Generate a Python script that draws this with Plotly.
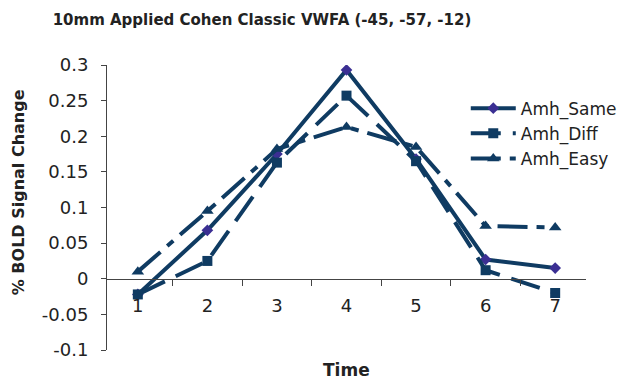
import plotly.graph_objects as go

time_labels = ["1", "2", "3", "4", "5", "6", "7"]
amh_same = [-0.022, 0.068, 0.175, 0.293, 0.168, 0.027, 0.015]
amh_diff = [-0.022, 0.025, 0.163, 0.257, 0.165, 0.012, -0.020]
amh_easy = [0.010, 0.095, 0.182, 0.213, 0.185, 0.074, 0.072]
y_tick_values = [-0.1, -0.05, 0, 0.05, 0.1, 0.15, 0.2, 0.25, 0.3]
y_tick_labels = ["-0.1", "-0.05", "0", "0.05", "0.1", "0.15", "0.2", "0.25", "0.3"]

navy = "#0f3b62"
fig = go.Figure()
fig.add_trace(go.Scatter(x=time_labels, y=amh_same, name="Amh_Same", mode="lines+markers",
                         line=dict(color=navy, width=4),
                         marker=dict(symbol="diamond", size=9, color="#3b2f93")))
fig.add_trace(go.Scatter(x=time_labels, y=amh_diff, name="Amh_Diff", mode="lines+markers",
                         line=dict(color=navy, width=4, dash="30px,12px"),
                         marker=dict(symbol="square", size=10, color=navy)))
fig.add_trace(go.Scatter(x=time_labels, y=amh_easy, name="Amh_Easy", mode="lines+markers",
                         line=dict(color=navy, width=4, dash="30px,9px,8px,9px"),
                         marker=dict(symbol="triangle-up", size=11, color=navy)))

fig.update_layout(
    width=624, height=381,
    margin=dict(l=107, r=38, t=65, b=31, autoexpand=False),
    paper_bgcolor="white", plot_bgcolor="white",
    font=dict(family="DejaVu Sans", color="#222222"),
    title=dict(text="<b>10mm Applied Cohen Classic VWFA (-45, -57, -12)</b>",
               x=262/624, xanchor="center", xref="container",
               y=1-20/381, yanchor="middle", yref="container",
               font=dict(size=15, family="DejaVu Sans", color="#222222")),
    xaxis=dict(type="category", tickson="boundaries", ticks="outside", ticklen=6,
               tickcolor="#444", showline=True, linecolor="#444", linewidth=1,
               showgrid=False, zeroline=False, anchor="free", position=0.25,
               tickfont=dict(size=18), ticklabelstandoff=11, automargin=False),
    yaxis=dict(range=[-0.1, 0.3], tickmode="array", tickvals=y_tick_values,
               ticktext=y_tick_labels, ticks="outside", ticklen=5,
               tickcolor="#444", showline=True, linecolor="#444", linewidth=1,
               showgrid=False, zeroline=False, tickfont=dict(size=18),
               ticklabelstandoff=9, automargin=False),
    legend=dict(x=0.749, y=0.91, xanchor="left", yanchor="top",
                bgcolor="rgba(0,0,0,0)", font=dict(size=17), itemwidth=45),
    showlegend=True,
)
fig.add_annotation(text="<b>Time</b>", x=0.5, y=-0.07, xref="paper", yref="paper",
                   showarrow=False, font=dict(size=17), yanchor="middle")
fig.add_annotation(text="<b>% BOLD Signal Change</b>", x=-0.184, y=0.553, xref="paper",
                   yref="paper", showarrow=False, textangle=-90, font=dict(size=16),
                   xanchor="center", yanchor="middle")
fig.write_html("out.html")
